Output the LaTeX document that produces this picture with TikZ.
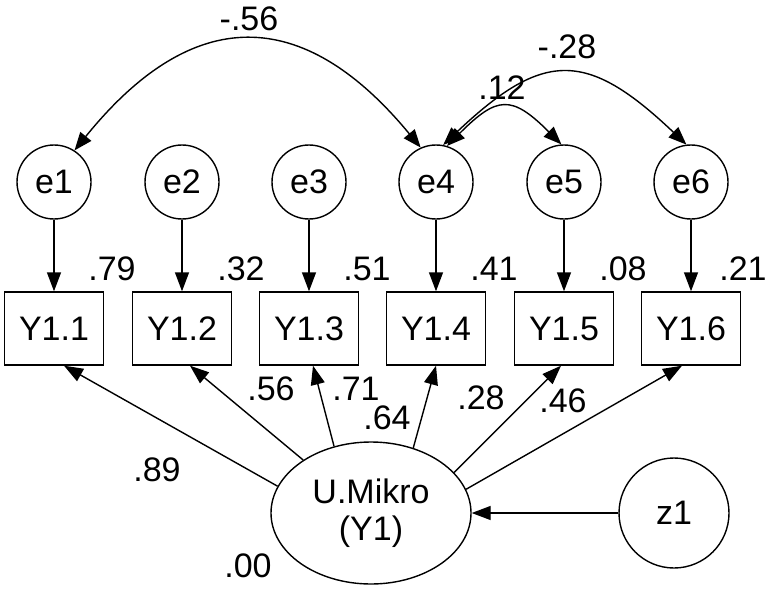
\documentclass[tikz,border=0pt]{standalone}
\usepackage{fontspec}
\setmainfont{Liberation Sans}
\usetikzlibrary{arrows.meta,shapes.geometric}
\begin{document}
\begin{tikzpicture}[x=1pt,y=-1pt, line width=1.4pt,
 every node/.style={font=\fontsize{34}{37}\selectfont},
 err/.style={draw, circle, minimum size=74pt, inner sep=0pt},
 obs/.style={draw, rectangle, minimum width=99pt, minimum height=73pt, inner sep=0pt},
 lat/.style={draw, ellipse, minimum width=200pt, minimum height=142pt, inner sep=0pt, align=center},
 arr/.style={-{Triangle[length=19pt,width=14pt]}},
 dbl/.style={{Triangle[length=18pt,width=14pt]}-{Triangle[length=18pt,width=14pt]}},
 lbl/.style={inner sep=0pt}]
\useasboundingbox (0,0) rectangle (767,588);
% error terms
\node[err] (e1) at (54,182) {e1};
\node[err] (e2) at (182,182) {e2};
\node[err] (e3) at (309,182) {e3};
\node[err] (e4) at (436,182) {e4};
\node[err] (e5) at (564,182) {e5};
\node[err] (e6) at (691,182) {e6};
% observed
\node[obs] (Y11) at (54,328.5) {Y1.1};
\node[obs] (Y12) at (182,328.5) {Y1.2};
\node[obs] (Y13) at (309,328.5) {Y1.3};
\node[obs] (Y14) at (436,328.5) {Y1.4};
\node[obs] (Y15) at (564,328.5) {Y1.5};
\node[obs] (Y16) at (691,328.5) {Y1.6};
% latent
\node[lat] (U) at (371,513) {U.Mikro\\(Y1)};
\node[err, minimum size=110pt] (z1) at (674,513) {z1};
% error arrows
\draw[arr] (e1) -- (Y11);
\draw[arr] (e2) -- (Y12);
\draw[arr] (e3) -- (Y13);
\draw[arr] (e4) -- (Y14);
\draw[arr] (e5) -- (Y15);
\draw[arr] (e6) -- (Y16);
% loadings
\draw[arr] (U.164.4) -- ([xshift=10pt]Y11.south);
\draw[arr] (U.142.2) -- ([xshift=8pt]Y12.south);
\draw[arr] (U.119.6) -- ([xshift=4pt]Y13.south);
\draw[arr] (U.57.9) -- (Y14.south);
\draw[arr] (U.26.6) -- ([xshift=-3pt]Y15.south);
\draw[arr] (U.14.6) -- ([xshift=-9pt]Y16.south);
\draw[arr] (z1) -- (U);
% covariances
\draw[dbl] (e1.57) .. controls +(118,-146) and +(-118,-143) .. (e4.114);
\draw[dbl] (e4.73) .. controls +(50,-50) and +(-50,-50) .. (e5.94);
\draw[dbl] (e4.79) .. controls +(100,-95) and +(-100,-95) .. (e6.97);
% labels
\node[lbl] (c1) at (249,19) {-.56};
\node[lbl] (c2) at (502,88) {.12};
\node[lbl] (c3) at (567,47) {-.28};
\node[lbl] (r1) at (112,269) {.79};
\node[lbl] (r2) at (241,269) {.32};
\node[lbl] (r3) at (367,269) {.51};
\node[lbl] (r4) at (494,269) {.41};
\node[lbl] (r5) at (623,269) {.08};
\node[lbl] (r6) at (743,269) {.21};
\node[lbl] (l1) at (157,470) {.89};
\node[lbl] (l2) at (271,389) {.56};
\node[lbl] (l3) at (356,389) {.71};
\node[lbl] (l4) at (387,418) {.64};
\node[lbl] (l5) at (481,398) {.28};
\node[lbl] (l6) at (563,401) {.46};
\node[lbl] (l0) at (248,566) {.00};
\end{tikzpicture}
\end{document}
